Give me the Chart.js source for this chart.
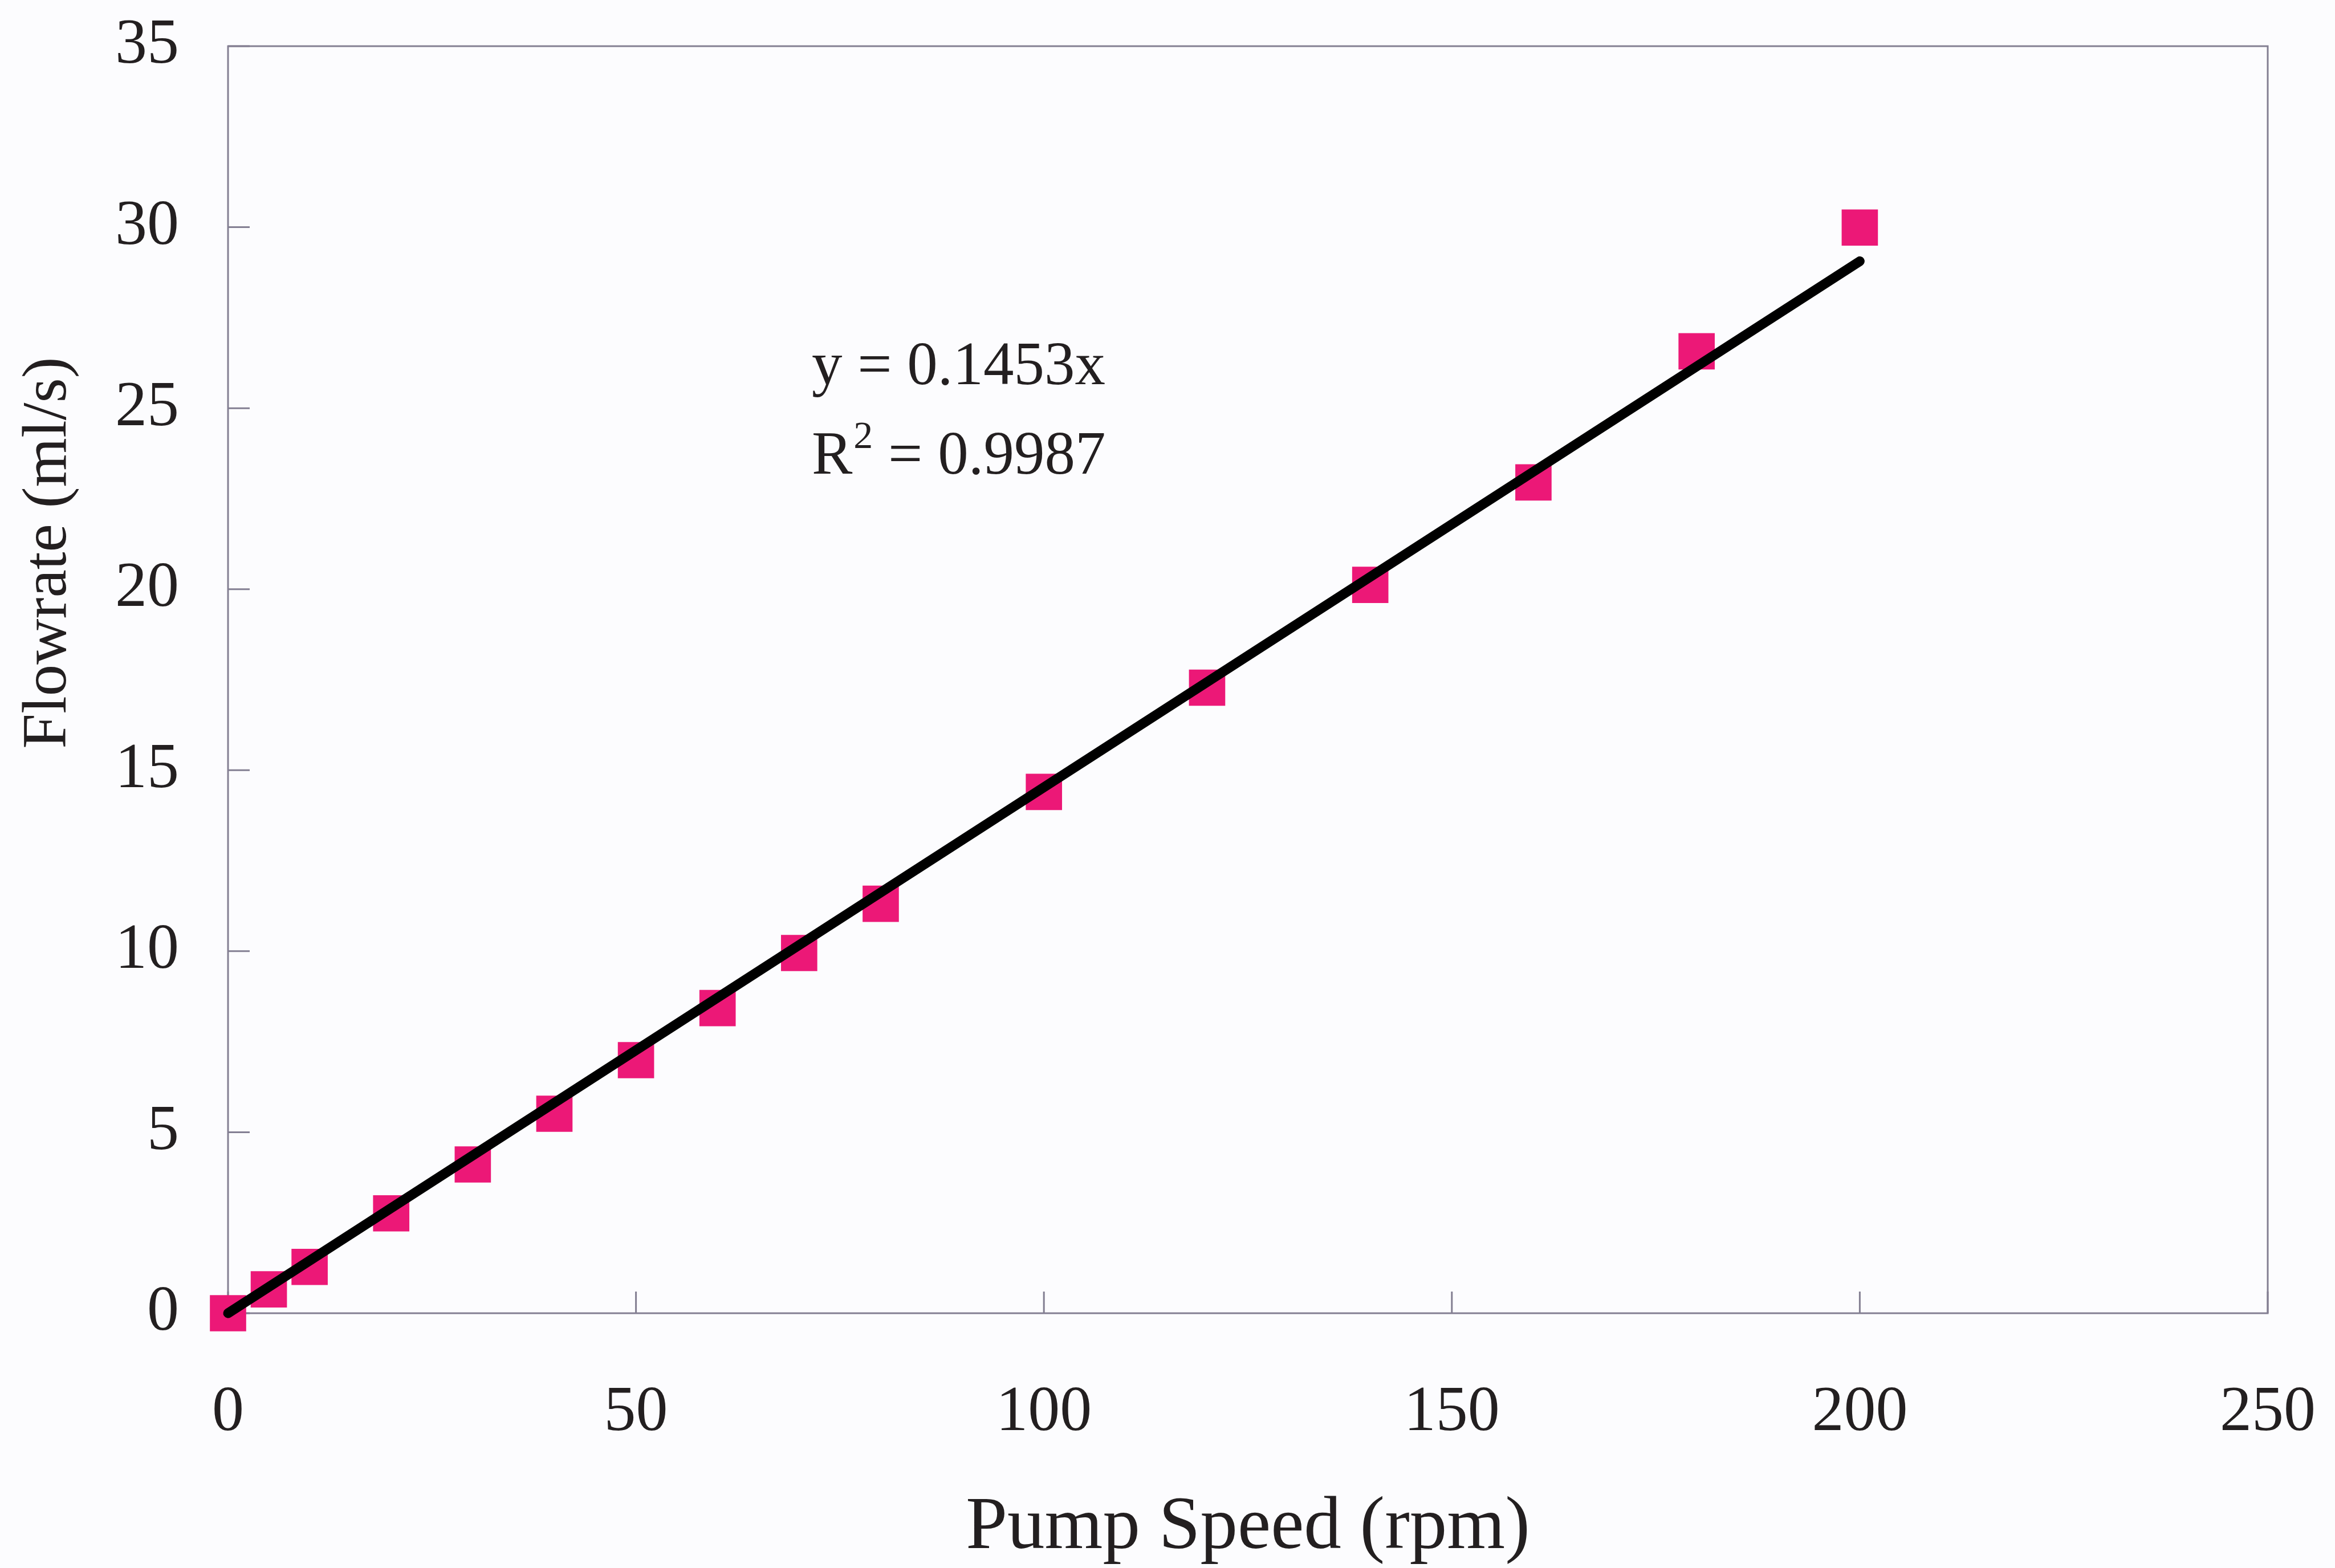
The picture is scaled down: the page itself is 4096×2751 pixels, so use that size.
<!DOCTYPE html>
<html>
<head>
<meta charset="utf-8">
<title>Flowrate vs Pump Speed</title>
<script src="https://cdn.jsdelivr.net/npm/chart.js@4.4.0/dist/chart.umd.min.js"></script>
<style>
    html, body { margin: 0; padding: 0; background: #fcfcfe; }
    #wrap { width: 4096px; height: 2751px; }
</style>
</head>
<body>
<div id="wrap"><canvas id="flowChart" width="4096" height="2751"></canvas></div>
<script>
// Data
const pumpSpeed = [0, 5, 10, 20, 30, 40, 50, 60, 70, 80, 100, 120, 140, 160, 180, 200];
const flowrate = [0, 0.66, 1.28, 2.76, 4.11, 5.51, 6.99, 8.43, 9.95, 11.31, 14.40, 17.28, 20.12, 22.95, 26.57, 29.99];

// Linear trendline y = 0.1453x, drawn from 0 to 200 rpm
const fitX = [0, 200];
const fitY = [0, 29.06];

const xTicks = [0, 50, 100, 150, 200, 250];
const yTicks = [0, 5, 10, 15, 20, 25, 30, 35];

const xTitle = 'Pump Speed (rpm)';
const yTitle = 'Flowrate (ml/s)';
const eqText = 'y = 0.1453x';
const r2Text = '= 0.9987';

// Styles
const FONT = '"Liberation Serif", "Times New Roman", serif';
const TEXT_COLOR = '#231f20';
const AXIS_COLOR = '#837f92';
const MARKER_COLOR = '#ec1877';
const TICK_LEN = 38;

Chart.defaults.font.family = FONT;
Chart.defaults.color = TEXT_COLOR;

// Frame, inner tick marks and free text (axis title, equation)
const framePlugin = {
    id: 'frame',
    beforeDatasetsDraw(chart) {
        const { ctx, chartArea: a, scales: { x, y } } = chart;
        ctx.save();
        ctx.strokeStyle = AXIS_COLOR;
        ctx.lineWidth = 3;
        ctx.strokeRect(a.left, a.top, a.right - a.left, a.bottom - a.top);
        ctx.beginPath();
        xTicks.forEach(v => {
            const px = x.getPixelForValue(v);
            ctx.moveTo(px, a.bottom);
            ctx.lineTo(px, a.bottom - TICK_LEN);
        });
        yTicks.forEach(v => {
            const py = y.getPixelForValue(v);
            ctx.moveTo(a.left, py);
            ctx.lineTo(a.left + TICK_LEN, py);
        });
        ctx.stroke();
        ctx.restore();
    },
    afterDraw(chart) {
        const { ctx } = chart;
        ctx.save();
        ctx.fillStyle = TEXT_COLOR;

        // y axis title
        ctx.translate(86, 970);
        ctx.rotate(-Math.PI / 2);
        ctx.font = `111px ${FONT}`;
        ctx.textAlign = 'center';
        ctx.textBaseline = 'middle';
        ctx.fillText(yTitle, 0, 0);
        ctx.setTransform(1, 0, 0, 1, 0, 0);

        // trendline equation
        ctx.textAlign = 'left';
        ctx.textBaseline = 'alphabetic';
        ctx.font = `107px ${FONT}`;
        ctx.fillText(eqText, 1424, 674);
        ctx.fillText('R', 1424, 831);
        const rw = ctx.measureText('R').width;
        ctx.font = `68px ${FONT}`;
        ctx.fillText('2', 1424 + rw + 2, 831 - 45);
        const sw = ctx.measureText('2').width;
        ctx.font = `107px ${FONT}`;
        ctx.fillText(' ' + r2Text, 1424 + rw + sw + 2, 831);
        ctx.restore();
    }
};

const ctx = document.getElementById('flowChart').getContext('2d');
const chart = new Chart(ctx, {
    type: 'scatter',
    data: {
        datasets: [
            {
                label: 'Linear fit',
                data: fitX.map((v, i) => ({ x: v, y: fitY[i] })),
                showLine: true,
                borderColor: '#000000',
                borderWidth: 17,
                borderCapStyle: 'round',
                pointRadius: 0,
                clip: false
            },
            {
                label: 'Flowrate',
                data: pumpSpeed.map((v, i) => ({ x: v, y: flowrate[i] })),
                pointStyle: 'rect',
                pointRadius: 45,
                pointBorderWidth: 0,
                backgroundColor: MARKER_COLOR,
                borderColor: MARKER_COLOR,
                clip: false
            }
        ]
    },
    options: {
        responsive: false,
        animation: false,
        events: [],
        layout: {
            autoPadding: false,
            padding: { top: 81, right: 118, bottom: 0, left: 0 }
        },
        plugins: {
            legend: { display: false },
            tooltip: { enabled: false }
        },
        scales: {
            x: {
                type: 'linear',
                min: 0,
                max: 250,
                afterBuildTicks: s => { s.ticks = xTicks.map(v => ({ value: v })); },
                afterFit: s => {
                    s.height = 447;
                    s.paddingLeft = 0;
                    s.paddingRight = 0;
                },
                grid: { display: false, drawTicks: false },
                border: { display: false },
                ticks: {
                    padding: 108,
                    font: { size: 112 },
                    color: TEXT_COLOR,
                    maxRotation: 0
                },
                title: {
                    display: true,
                    text: xTitle,
                    font: { size: 131, lineHeight: 1.0 },
                    color: TEXT_COLOR,
                    padding: { top: 0, bottom: 4 }
                }
            },
            y: {
                type: 'linear',
                min: 0,
                max: 35,
                afterBuildTicks: s => { s.ticks = yTicks.map(v => ({ value: v })); },
                afterFit: s => {
                    s.width = 400;
                    s.paddingTop = 0;
                    s.paddingBottom = 0;
                },
                grid: { display: false, drawTicks: false },
                border: { display: false },
                ticks: {
                    padding: 86,
                    font: { size: 112 },
                    color: TEXT_COLOR
                }
            }
        }
    },
    plugins: [framePlugin]
});
</script>
</body>
</html>
